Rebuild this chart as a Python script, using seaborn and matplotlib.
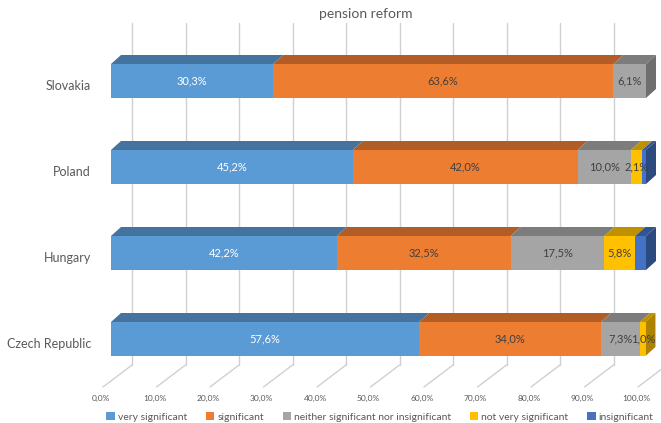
import numpy as np
import pandas as pd
import matplotlib
matplotlib.use("Agg")
import matplotlib.pyplot as plt
from matplotlib.patches import Polygon, Patch
import seaborn as sns

countries = ["Slovakia", "Poland", "Hungary", "Czech Republic"]
series = ["very significant", "significant", "neither significant nor insignificant",
          "not very significant", "insignificant"]
very_significant = [30.3, 45.2, 42.2, 57.6]
significant = [63.6, 42.0, 32.5, 34.0]
neither = [6.1, 10.0, 17.5, 7.3]
not_very = [0.0, 2.1, 5.8, 1.0]
insignificant = [0.0, 0.7, 2.0, 0.0]
ticks = [0, 10, 20, 30, 40, 50, 60, 70, 80, 90, 100]

front = ["#5B9BD5", "#ED7D31", "#A5A5A5", "#FFC000", "#4472C4"]
top = ["#44739F", "#B25D25", "#7C7C7C", "#BF9000", "#33558F"]
side = ["#3D6890", "#A0531F", "#6E6E6E", "#AC8200", "#2B4A7E"]
txt = ["white", "#404040", "#404040", "#404040", None]

vals = np.array([very_significant, significant, neither, not_very, insignificant])
cum = vals.cumsum(axis=0)
df = pd.DataFrame({"country": countries})
for k, s in enumerate(series):
    df[s] = cum[k]

sns.set_style("white")
plt.rcParams["font.family"] = ["Lato", "DejaVu Sans"]

W, H = 661, 423
fig = plt.figure(figsize=(W / 100, H / 100), dpi=100)
ax = fig.add_axes([0, 0, 1, 1])

# pixel mapping: 0% at x=111px, 100% at 646px ; rows 86px apart, first at 81px
sx = 5.35
def X(px):
    return (px - 111) / sx
def Y(py):
    return (py - 81) / 86

bar_h = 34 / 86
dx, dy = 10 / sx, 9 / 86

# back wall grid and floor lines
for t in ticks:
    xb = t + 21 / sx
    ax.plot([xb, xb], [Y(23), Y(365)], color="#D0D0D0", lw=1, zorder=0)
    ax.plot([xb, t + X(103)], [Y(365), Y(387)], color="#D0D0D0", lw=1, zorder=0)
    ax.text(t + X(101), Y(398), f"{t:.1f}%".replace(".", ","), ha="center", va="center",
            fontsize=6, color="#595959")

# front faces (stacked from the back)
for k in range(len(series) - 1, -1, -1):
    sns.barplot(data=df, x=series[k], y="country", orient="h", color=front[k],
                saturation=1, width=bar_h, linewidth=0, ax=ax, zorder=2)

# 3d top and side faces
for i, c in enumerate(countries):
    y0 = i - bar_h / 2
    y1 = i + bar_h / 2
    last = max(k for k in range(len(series)) if vals[k, i] > 0)
    for k in range(len(series)):
        v = vals[k, i]
        if v <= 0:
            continue
        e = cum[k, i]
        s = e - v
        ax.add_patch(Polygon([(s, y0), (e, y0), (e + dx, y0 - dy), (s + dx, y0 - dy)],
                             closed=True, fc=top[k], ec="none", zorder=3))
        if k == last:
            ax.add_patch(Polygon([(e, y0), (e + dx, y0 - dy), (e + dx, y1 - dy), (e, y1)],
                                 closed=True, fc=side[k], ec="none", zorder=3))
        if txt[k] is not None:
            ax.text(s + v / 2, i, f"{v:.1f}%".replace(".", ","), ha="center", va="center",
                    fontsize=8, color=txt[k], zorder=4)
    ax.text(X(91), i + 5 / 86, c, ha="right", va="center", fontsize=9, color="#595959")

ax.set_xlim(X(0), X(W))
ax.set_ylim(Y(H), Y(0))
ax.axis("off")

ax.text(X(366), Y(14), "pension reform", ha="center", va="center", fontsize=10, color="#595959")

handles = [Patch(fc=front[k], ec="none") for k in range(len(series))]
fig.legend(handles, series, loc="lower center", bbox_to_anchor=(380 / W, -0.012), ncol=5,
           frameon=False, fontsize=7.5, handlelength=0.8, handleheight=0.8, handletextpad=0.3,
           columnspacing=1.8, labelcolor="#595959", borderaxespad=0.2)

fig.savefig("out.png", dpi=100)
